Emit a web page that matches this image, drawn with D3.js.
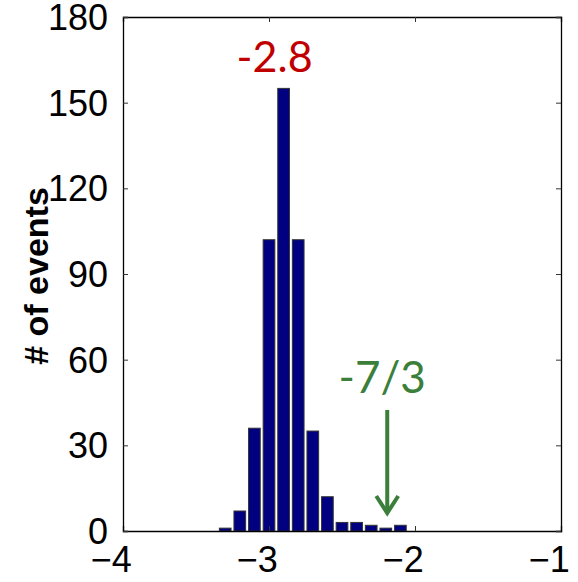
<!DOCTYPE html>
<html>
<head>
<meta charset="utf-8">
<script src="https://cdn.jsdelivr.net/npm/d3@7"></script>
<style>
  html, body { margin: 0; padding: 0; background: #fff; }
  svg { display: block; }
</style>
</head>
<body>
<svg id="chart" width="578" height="582"></svg>
<script>
// Histogram bins (centre of each bin) and event counts
const binCenters = [-3.3, -3.2, -3.1, -3.0, -2.9, -2.8, -2.7, -2.6, -2.5, -2.4, -2.3, -2.2, -2.1];
const counts     = [1, 7, 36, 102, 155, 102, 35, 12, 3, 3, 2, 1, 2];
const binWidth = 0.1;

const xTicks = [-4, -3, -2, -1];
const yTicks = [0, 30, 60, 90, 120, 150, 180];

const peakLabel = "-2.8";
const peakValue = -2.9;
const refLabel = "-7/3";
const refValue = -7 / 3 + 0.15;

const svg = d3.select("#chart");
const margin = { left: 123, top: 17, right: 17, bottom: 51 };
const W = 578, H = 582;

const x = d3.scaleLinear().domain([-4, -1]).range([margin.left, W - margin.right]);
const y = d3.scaleLinear().domain([0, 180]).range([H - margin.bottom, margin.top]);

const tickFont = "'Liberation Sans Narrow', 'Liberation Sans', Arial, sans-serif";
const titleFont = "'Liberation Sans', Arial, Helvetica, sans-serif";
const tickLen = 5;

// Bars
svg.append("g")
  .selectAll("rect")
  .data(binCenters.map((c, i) => ({ c, v: counts[i] })))
  .join("rect")
  .attr("x", d => x(d.c - binWidth * 0.4))
  .attr("width", d => x(d.c + binWidth * 0.4) - x(d.c - binWidth * 0.4))
  .attr("y", d => y(d.v))
  .attr("height", d => y(0) - y(d.v))
  .attr("fill", "#000080")
  .attr("stroke", "#333")
  .attr("stroke-width", 1);

// Axes with inward ticks on all four sides
const fmt = d => d < 0 ? "\u2212" + Math.abs(d) : String(d);

const xAxisB = d3.axisBottom(x).tickValues(xTicks).tickSize(-tickLen).tickFormat(fmt).tickPadding(14);
const xAxisT = d3.axisTop(x).tickValues(xTicks).tickSize(-tickLen).tickFormat("");
const yAxisL = d3.axisLeft(y).tickValues(yTicks).tickSize(-tickLen).tickFormat(fmt).tickPadding(15);
const yAxisR = d3.axisRight(y).tickValues(yTicks).tickSize(-tickLen).tickFormat("");

const gB = svg.append("g").attr("transform", `translate(0,${y(0)})`).call(xAxisB);
const gT = svg.append("g").attr("transform", `translate(0,${y(180)})`).call(xAxisT);
const gL = svg.append("g").attr("transform", `translate(${x(-4)},0)`).call(yAxisL);
const gR = svg.append("g").attr("transform", `translate(${x(-1)},0)`).call(yAxisR);

[gB, gT, gL, gR].forEach(g => {
  g.select(".domain").attr("stroke", "#000").attr("stroke-width", 1.3);
  g.selectAll(".tick line").attr("stroke", "#333").attr("stroke-width", 1);
  g.selectAll("text")
    .attr("font-family", tickFont)
    .attr("font-size", 36)
    .attr("fill", "#000");
});
// keep the digit centred on the tick, with the minus sign hanging to the left
gB.selectAll(".tick text").attr("text-anchor", "end").attr("dx", "0.23em").attr("dy", "0.76em");
gL.selectAll(".tick text").attr("dy", "0.35em");

// Axis title
svg.append("text")
  .attr("transform", `translate(48,${(y(0) + y(180)) / 2 + 2}) rotate(-90)`)
  .attr("text-anchor", "middle")
  .attr("font-family", titleFont)
  .attr("font-weight", "bold")
  .attr("font-size", 34)
  .attr("fill", "#000")
  .text("# of events");

// Peak annotation
const annFont = "Lato, 'Open Sans', 'Noto Sans', sans-serif";
svg.append("text")
  .attr("x", x(peakValue) - 9)
  .attr("y", 72)
  .attr("text-anchor", "middle")
  .attr("font-family", annFont)
  .attr("font-size", 43)
  .attr("fill", "#c00000")
  .text(peakLabel);

// Reference annotation with arrow
const green = "#3b7f3b";
const ax = x(refValue) - 1;
svg.append("text")
  .attr("x", ax - 5)
  .attr("y", 393)
  .attr("text-anchor", "middle")
  .attr("font-family", annFont)
  .attr("font-size", 44)
  .attr("fill", green)
  .text(refLabel);

svg.append("line")
  .attr("x1", ax).attr("x2", ax)
  .attr("y1", 410).attr("y2", 512)
  .attr("stroke", green).attr("stroke-width", 4);

svg.append("path")
  .attr("d", `M${ax - 11},${496} L${ax},${513} L${ax + 11},${496}`)
  .attr("fill", "none")
  .attr("stroke", green)
  .attr("stroke-width", 4)
  .attr("stroke-linejoin", "miter");
</script>
</body>
</html>
